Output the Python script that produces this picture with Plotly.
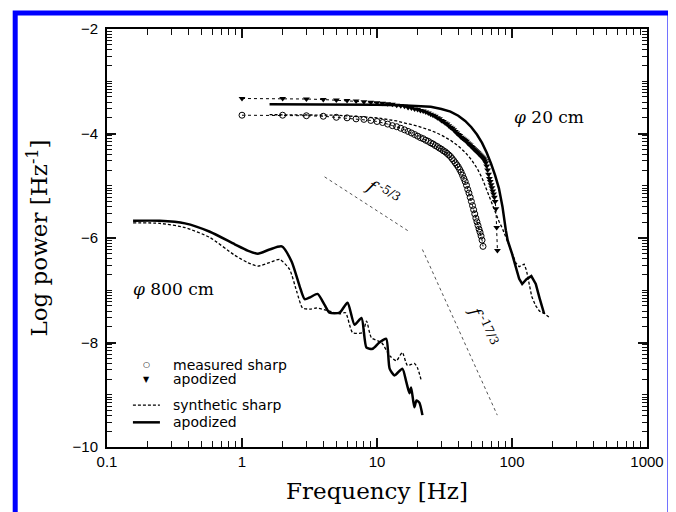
import numpy as np
import plotly.graph_objects as go

# 20 cm: measured harmonics (integer Hz)
meas_sharp_f = list(range(1, 62))
meas_sharp_v = [
    -3.65, -3.65, -3.66, -3.67, -3.69, -3.70, -3.72, -3.73, -3.75, -3.77,
    -3.79, -3.82, -3.85, -3.87, -3.90, -3.93, -3.96, -3.99, -4.02, -4.05,
    -4.08, -4.10, -4.13, -4.15, -4.18, -4.20, -4.23, -4.25, -4.28, -4.30,
    -4.33, -4.35, -4.38, -4.41, -4.44, -4.48, -4.52, -4.56, -4.60, -4.64,
    -4.69, -4.74, -4.80, -4.86, -4.92, -4.99, -5.07, -5.14, -5.22, -5.30,
    -5.38, -5.46, -5.54, -5.62, -5.69, -5.76, -5.83, -5.89, -5.96, -6.04, -6.16,
]
meas_apod_f = list(range(1, 79))
meas_apod_v = [
    -3.33, -3.33, -3.34, -3.35, -3.36, -3.37, -3.38, -3.39, -3.40, -3.41,
    -3.42, -3.43, -3.44, -3.46, -3.47, -3.48, -3.50, -3.51, -3.53, -3.54,
    -3.56, -3.57, -3.59, -3.61, -3.63, -3.65, -3.67, -3.70, -3.72, -3.75,
    -3.77, -3.80, -3.82, -3.85, -3.88, -3.90, -3.93, -3.96, -3.99, -4.02,
    -4.04, -4.07, -4.09, -4.11, -4.13, -4.15, -4.18, -4.20, -4.22, -4.25,
    -4.27, -4.29, -4.31, -4.33, -4.35, -4.37, -4.39, -4.41, -4.43, -4.45,
    -4.47, -4.49, -4.52, -4.56, -4.62, -4.70, -4.78, -4.86, -4.92, -4.98,
    -5.04, -5.10, -5.16, -5.22, -5.30, -5.44, -5.80, -6.24,
]

# 20 cm: synthetic spectra
syn20_sharp_f = [1.6, 3, 5, 10, 14, 20, 25, 30, 35, 40, 45, 50, 55, 60, 65, 70, 75, 80,
                 85, 92, 100, 107, 113, 118, 123, 128, 135, 140, 150, 160, 175, 189]
syn20_sharp_v = [-3.64, -3.64, -3.65, -3.70, -3.76, -3.86, -3.94, -4.03, -4.13, -4.24,
                 -4.36, -4.50, -4.66, -4.85, -5.08, -5.32, -5.52, -5.68, -5.82, -6.05,
                 -6.30, -6.48, -6.55, -6.52, -6.50, -6.62, -6.96, -7.12, -7.30, -7.40,
                 -7.45, -7.52]
syn20_apod_f = [1.6, 3, 5, 10, 15, 20, 25, 30, 35, 40, 45, 50, 55, 60, 65, 70, 75, 80,
                85, 90, 93, 100, 107, 113, 119, 128, 139, 150, 160, 173]
syn20_apod_v = [-3.44, -3.44, -3.44, -3.45, -3.46, -3.47, -3.49, -3.53, -3.58, -3.66,
                -3.76, -3.88, -4.02, -4.18, -4.37, -4.58, -4.80, -5.05, -5.40, -5.85,
                -6.05, -6.30, -6.55, -6.78, -6.88, -6.79, -6.73, -6.88, -7.15, -7.45]

# 800 cm: synthetic spectra
syn800_apod_f = [0.156, 0.246, 0.378, 0.578, 0.883, 1.10, 1.31, 1.60, 1.97, 2.33, 2.67,
                 2.91, 3.22, 3.63, 4.09, 4.45, 5.28, 6.05, 6.82, 7.68, 8.36, 9.27, 10.4,
                 11.7, 12.4, 13.5, 15.4, 16.5, 17.4, 17.9, 18.9, 19.6, 20.6, 21.7]
syn800_apod_v = [-5.67, -5.67, -5.72, -5.88, -6.12, -6.24, -6.30, -6.22, -6.16, -6.45,
                 -6.92, -7.17, -7.13, -7.07, -7.28, -7.43, -7.43, -7.24, -7.66, -7.53,
                 -8.10, -8.12, -8.00, -7.93, -8.50, -8.63, -8.50, -8.76, -8.97, -8.86,
                 -9.24, -9.11, -9.15, -9.39]
syn800_sharp_f = [0.156, 0.246, 0.378, 0.578, 0.883, 1.10, 1.31, 1.60, 1.90, 2.25, 2.54,
                  2.81, 3.20, 3.57, 4.45, 5.28, 5.85, 6.59, 7.82, 8.36, 9.10, 10.8, 12.4,
                  13.9, 15.4, 16.8, 18.9, 19.9, 21.3]
syn800_sharp_v = [-5.71, -5.72, -5.80, -5.99, -6.33, -6.47, -6.54, -6.47, -6.41, -6.60,
                  -7.02, -7.34, -7.36, -7.34, -7.40, -7.45, -7.43, -7.81, -7.81, -7.59,
                  -7.91, -8.00, -8.25, -8.35, -8.19, -8.44, -8.40, -8.48, -8.73]

# power-law guide lines
law53_f = [4.09, 17.4]
law53_v = [-4.83, -5.88]
law173_f = [21.7, 77.8]
law173_v = [-6.22, -9.39]

x_ticks = [0.1, 1, 10, 100, 1000]
x_ticktext = ["0.1", "1", "10", "100", "1000"]
y_ticks = [-10, -8, -6, -4, -2]

x_minor = [k * 10.0 ** d for d in range(-1, 3) for k in range(2, 10)]
y_minor = [float(n + np.log10(k)) for n in range(-10, -2) for k in range(1, 10)]

legend_labels = ["measured sharp", "apodized", "synthetic sharp", "apodized"]
legend_glyphs = ["○", "▼"]

DASH = "3px,2px"
TICK = "#111111"
fig = go.Figure()

# dotted connectors between measured points
fig.add_trace(go.Scatter(x=meas_apod_f, y=meas_apod_v, mode="lines",
                         line=dict(color="black", width=1, dash="dot")))
fig.add_trace(go.Scatter(x=meas_sharp_f, y=meas_sharp_v, mode="lines",
                         line=dict(color="black", width=1, dash="dot")))

fig.add_trace(go.Scatter(
    x=meas_sharp_f, y=meas_sharp_v, mode="markers",
    marker=dict(symbol="circle-open", size=6, color="black", line=dict(width=1)),
))
fig.add_trace(go.Scatter(
    x=meas_apod_f, y=meas_apod_v, mode="markers",
    marker=dict(symbol="triangle-down", size=6, color="black"),
))
fig.add_trace(go.Scatter(
    x=syn20_sharp_f, y=syn20_sharp_v, mode="lines",
    line=dict(color="black", width=1.3, dash=DASH),
))
fig.add_trace(go.Scatter(
    x=syn20_apod_f, y=syn20_apod_v, mode="lines",
    line=dict(color="black", width=2.5),
))
fig.add_trace(go.Scatter(
    x=syn800_sharp_f, y=syn800_sharp_v, mode="lines",
    line=dict(color="black", width=1.3, dash=DASH, shape="spline", smoothing=0.6),
))
fig.add_trace(go.Scatter(
    x=syn800_apod_f, y=syn800_apod_v, mode="lines",
    line=dict(color="black", width=2.5, shape="spline", smoothing=0.6),
))

for fx, vy in [(law53_f, law53_v), (law173_f, law173_v)]:
    fig.add_trace(go.Scatter(x=fx, y=vy, mode="lines",
                             line=dict(color="#555555", width=1, dash="dot")))

# hand-made key in the lower left corner
key_y = [0.197, 0.162, 0.100, 0.059]
key_font = dict(family="DejaVu Sans", size=14, color="black")
for label, ky in zip(legend_labels, key_y):
    fig.add_annotation(x=0.118, y=ky, xref="paper", yref="paper", text=label, showarrow=False,
                       xanchor="left", yanchor="middle", font=key_font)
for glyph, ky in zip(legend_glyphs, key_y[:2]):
    fig.add_annotation(x=0.0735, y=ky, xref="paper", yref="paper", text=glyph, showarrow=False,
                       xanchor="center", yanchor="middle",
                       font=dict(family="DejaVu Sans", size=8, color="black"))
fig.add_shape(type="line", xref="paper", yref="paper", x0=0.048, x1=0.098,
              y0=key_y[2], y1=key_y[2], line=dict(color="black", width=1.3, dash=DASH))
fig.add_shape(type="line", xref="paper", yref="paper", x0=0.048, x1=0.098,
              y0=key_y[3], y1=key_y[3], line=dict(color="black", width=2.5))

label_font = dict(family="DejaVu Serif", size=17, color="black")
fig.add_annotation(x=np.log10(188), y=-3.69, text="<i>φ</i> 20 cm", showarrow=False, font=label_font)
fig.add_annotation(x=np.log10(0.313), y=-6.98, text="<i>φ</i> 800 cm", showarrow=False, font=label_font)
law_font = dict(family="DejaVu Serif", size=17, color="black")
fig.add_annotation(x=np.log10(11.0), y=-5.12, text="<i>f</i><sup> -5/3</sup>", showarrow=False,
                   textangle=33, font=law_font)
fig.add_annotation(x=np.log10(61.2), y=-7.68, text="<i>f</i><sup> -17/3</sup>", showarrow=False,
                   textangle=66, font=law_font)

# blue frame around the picture
fig.add_shape(type="rect", xref="paper", yref="paper", x0=-0.170, x1=1.0425, y0=-0.2, y1=1.038,
              line=dict(color="#0000ff", width=5), fillcolor="rgba(0,0,0,0)", layer="above")

tick_font = dict(family="Liberation Sans", size=15, color="black")
title_font = dict(family="DejaVu Serif", size=23, color="black")

fig.update_layout(
    width=668, height=504,
    margin=dict(l=99, r=28, t=18, b=65),
    paper_bgcolor="white", plot_bgcolor="white",
    showlegend=False,
    xaxis=dict(type="log", range=[-1, 3], tickmode="array", tickvals=x_ticks, ticktext=x_ticktext,
               ticks="inside", ticklen=9, tickwidth=1.5, tickcolor=TICK,
               showline=True, linewidth=2, linecolor="black", mirror="ticks",
               showgrid=False, zeroline=False, tickfont=tick_font,
               title=dict(text="Frequency [Hz]", font=title_font, standoff=14)),
    yaxis=dict(range=[-10, -2], tickmode="array", tickvals=y_ticks,
               ticks="inside", ticklen=9, tickwidth=1.5, tickcolor=TICK,
               showline=True, linewidth=2, linecolor="black", mirror="ticks",
               showgrid=False, zeroline=False, tickfont=tick_font, ticklabelstandoff=4,
               title=dict(text="Log power [Hz<sup>-1</sup>]", font=title_font, standoff=18)),
    # minor ticks: log-spaced marks on overlaid axes
    xaxis2=dict(type="log", range=[-1, 3], overlaying="x", anchor="y", side="bottom",
                tickmode="array", tickvals=x_minor, ticks="inside", ticklen=6, tickwidth=1,
                tickcolor=TICK, showticklabels=False, showline=False,
                mirror="ticks", showgrid=False, zeroline=False),
    yaxis2=dict(range=[-10, -2], overlaying="y", anchor="x", side="left",
                tickmode="array", tickvals=y_minor, ticks="inside", ticklen=5, tickwidth=1,
                tickcolor=TICK, showticklabels=False, showline=False,
                mirror="ticks", showgrid=False, zeroline=False),
)
# a dummy trace so the minor-tick axes are drawn
fig.add_trace(go.Scatter(x=[1], y=[-6], xaxis="x2", yaxis="y2", mode="markers",
                         marker=dict(size=0.1, opacity=0), hoverinfo="skip"))

fig.write_html("out.html")
